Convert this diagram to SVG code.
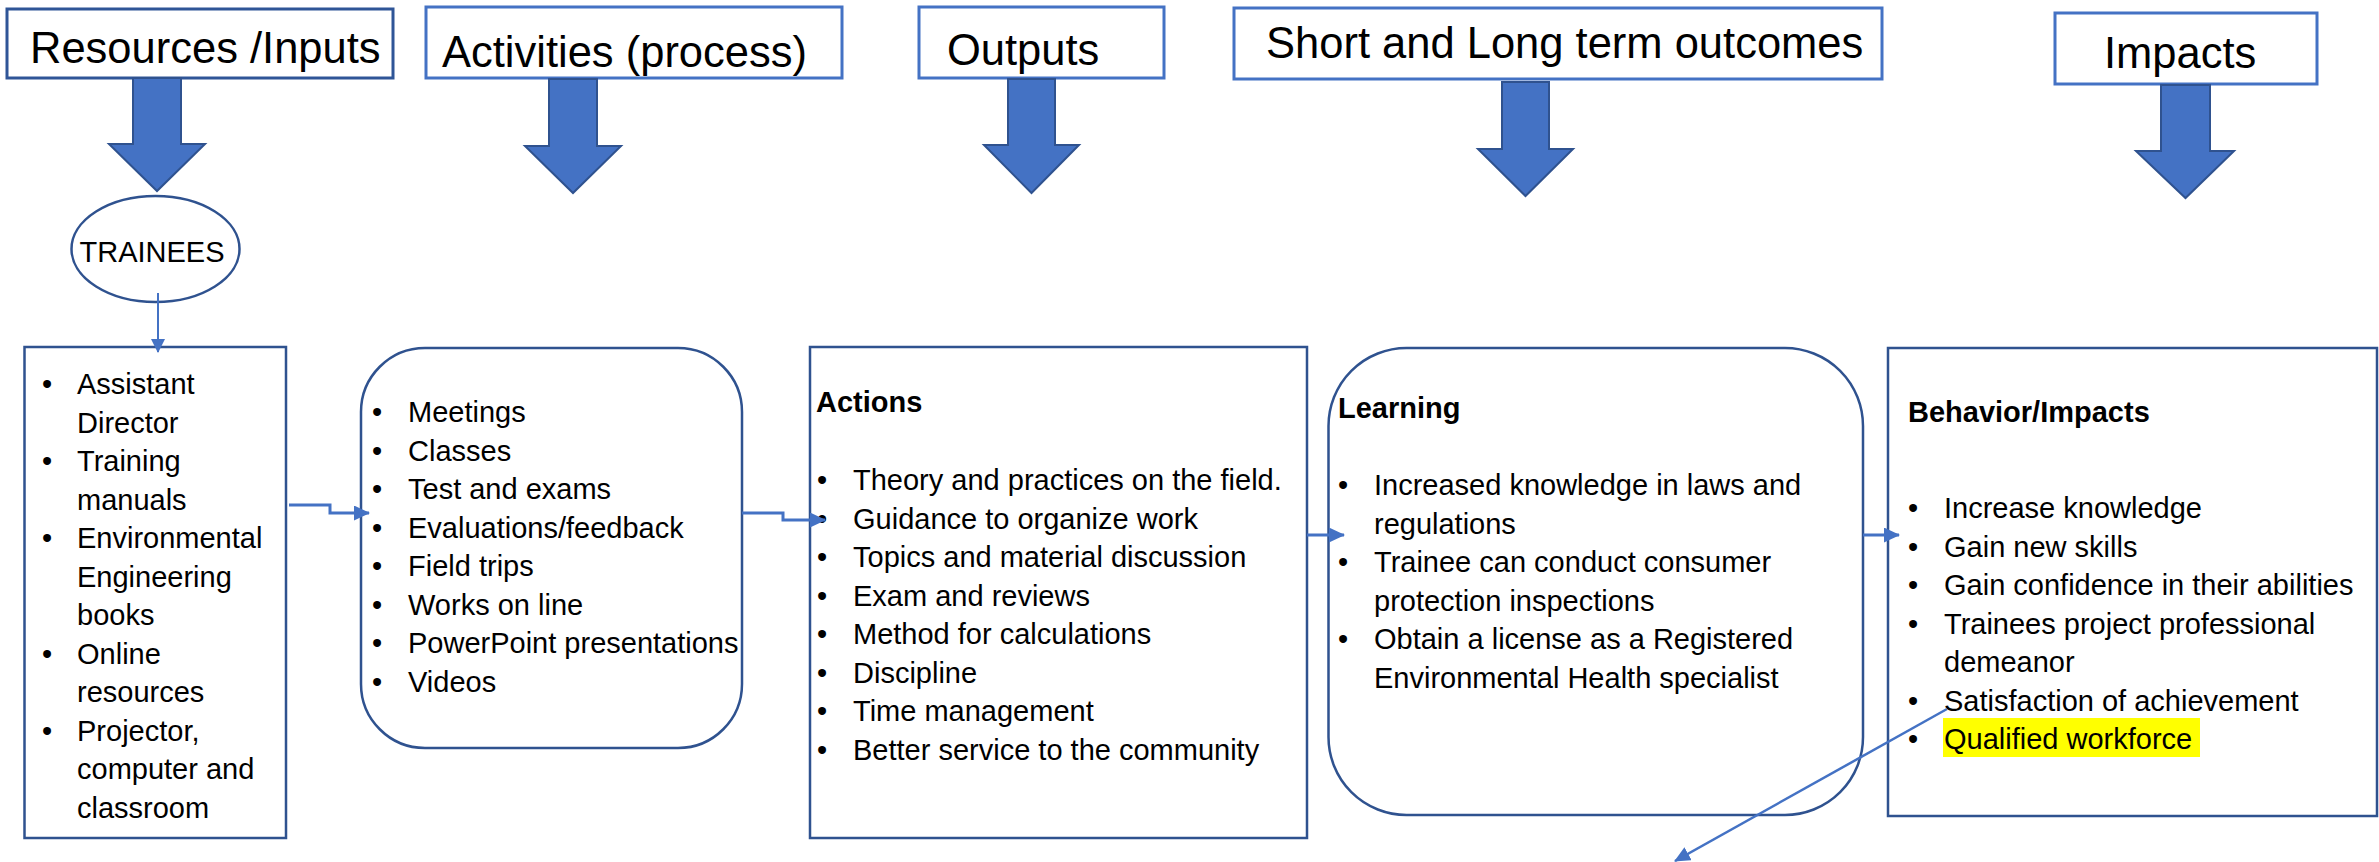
<svg xmlns="http://www.w3.org/2000/svg" width="2379" height="862" viewBox="0 0 2379 862">
<style>
text{font-family:"Liberation Sans",Arial,sans-serif;fill:#000}
.hd{font-size:43.5px}
.bd{font-size:29px}
.b{font-weight:bold}
.hbox{fill:#fff;stroke:#4472C4;stroke-width:3}
.box{fill:#fff;stroke:#2F528F;stroke-width:2.5}
.barrow{fill:#4472C4;stroke:#2F528F;stroke-width:2}
.conn{fill:none;stroke:#4472C4;stroke-width:3}
</style>
<defs>
<marker id="ah" viewBox="0 0 16 15" refX="15" refY="7.5" markerWidth="16" markerHeight="15" orient="auto" markerUnits="userSpaceOnUse">
<path d="M0,0 L16,7.5 L0,15 z" fill="#4472C4"/>
</marker>
<marker id="ahs" viewBox="0 0 14 14" refX="13" refY="7" markerWidth="14" markerHeight="14" orient="auto" markerUnits="userSpaceOnUse">
<path d="M0,0 L14,7 L0,14 z" fill="#4472C4"/>
</marker>
</defs>

<g id="header-resources">
<rect class="hbox" x="7" y="9" width="386" height="69" style="stroke:#2F5597"/>
<text class="hd" x="30" y="63">Resources /Inputs</text>
<polygon class="barrow" points="133,78 181,78 181,144 205,144 157,191 109,144 133,144"/>
</g>
<g id="header-activities">
<rect class="hbox" x="426" y="7" width="416" height="71"/>
<text class="hd" x="442" y="67">Activities (process)</text>
<polygon class="barrow" points="549,79 597,79 597,146 621,146 573,193 525,146 549,146"/>
</g>
<g id="header-outputs">
<rect class="hbox" x="919" y="7" width="245" height="71"/>
<text class="hd" x="947" y="65">Outputs</text>
<polygon class="barrow" points="1008,79 1055,79 1055,145 1079,145 1031.5,193 984,145 1008,145"/>
</g>
<g id="header-outcomes">
<rect class="hbox" x="1234" y="8" width="648" height="71"/>
<text class="hd" x="1266" y="58">Short and Long term outcomes</text>
<polygon class="barrow" points="1502,82 1549,82 1549,149 1573,149 1525.5,196 1478,149 1502,149"/>
</g>
<g id="header-impacts">
<rect class="hbox" x="2055" y="13" width="262" height="71"/>
<text class="hd" x="2104" y="68">Impacts</text>
<polygon class="barrow" points="2161,85 2210,85 2210,151 2234,151 2185.5,198 2136,151 2161,151"/>
</g>

<g id="trainees">
<ellipse class="box" cx="155.5" cy="249" rx="84" ry="53"/>
<text class="bd" x="152" y="262" text-anchor="middle">TRAINEES</text>
</g>

<g id="inputs">
<rect class="box" x="24.5" y="347" width="261.5" height="491"/>
<g class="bd">
<text class="bd" x="42" y="394">•</text>
<text class="bd" x="77" y="394">Assistant</text>
<text class="bd" x="77" y="432.5">Director</text>
<text class="bd" x="42" y="471">•</text>
<text class="bd" x="77" y="471">Training</text>
<text class="bd" x="77" y="509.5">manuals</text>
<text class="bd" x="42" y="548">•</text>
<text class="bd" x="77" y="548">Environmental</text>
<text class="bd" x="77" y="586.5">Engineering</text>
<text class="bd" x="77" y="625">books</text>
<text class="bd" x="42" y="663.5">•</text>
<text class="bd" x="77" y="663.5">Online</text>
<text class="bd" x="77" y="702">resources</text>
<text class="bd" x="42" y="740.5">•</text>
<text class="bd" x="77" y="740.5">Projector,</text>
<text class="bd" x="77" y="779">computer and</text>
<text class="bd" x="77" y="817.5">classroom</text>
</g>
</g>

<g id="activities">
<rect class="box" x="361" y="348" width="381" height="400" rx="64" ry="64"/>
<text class="bd" x="372" y="422">•</text><text class="bd" x="408" y="422">Meetings</text>
<text class="bd" x="372" y="460.5">•</text><text class="bd" x="408" y="460.5">Classes</text>
<text class="bd" x="372" y="499">•</text><text class="bd" x="408" y="499">Test and exams</text>
<text class="bd" x="372" y="537.5">•</text><text class="bd" x="408" y="537.5">Evaluations/feedback</text>
<text class="bd" x="372" y="576">•</text><text class="bd" x="408" y="576">Field trips</text>
<text class="bd" x="372" y="614.5">•</text><text class="bd" x="408" y="614.5">Works on line</text>
<text class="bd" x="372" y="653">•</text><text class="bd" x="408" y="653">PowerPoint presentations</text>
<text class="bd" x="372" y="691.5">•</text><text class="bd" x="408" y="691.5">Videos</text>
</g>

<g id="actions">
<rect class="box" x="810" y="347" width="497" height="491"/>
<text class="bd b" x="816" y="412">Actions</text>
<text class="bd" x="817" y="490">•</text><text class="bd" x="853" y="490">Theory and practices on the field.</text>
<text class="bd" x="817" y="528.5">•</text><text class="bd" x="853" y="528.5">Guidance to organize work</text>
<text class="bd" x="817" y="567">•</text><text class="bd" x="853" y="567">Topics and material discussion</text>
<text class="bd" x="817" y="605.5">•</text><text class="bd" x="853" y="605.5">Exam and reviews</text>
<text class="bd" x="817" y="644">•</text><text class="bd" x="853" y="644">Method for calculations</text>
<text class="bd" x="817" y="682.5">•</text><text class="bd" x="853" y="682.5">Discipline</text>
<text class="bd" x="817" y="721">•</text><text class="bd" x="853" y="721">Time management</text>
<text class="bd" x="817" y="759.5">•</text><text class="bd" x="853" y="759.5">Better service to the community</text>
</g>

<g id="learning">
<rect class="box" x="1328.5" y="348" width="534.5" height="467" rx="78" ry="78"/>
<text class="bd b" x="1338" y="418">Learning</text>
<text class="bd" x="1338" y="495">•</text><text class="bd" x="1374" y="495">Increased knowledge in laws and</text>
<text class="bd" x="1374" y="533.5">regulations</text>
<text class="bd" x="1338" y="572">•</text><text class="bd" x="1374" y="572">Trainee can conduct consumer</text>
<text class="bd" x="1374" y="610.5">protection inspections</text>
<text class="bd" x="1338" y="649">•</text><text class="bd" x="1374" y="649">Obtain a license as a Registered</text>
<text class="bd" x="1374" y="687.5">Environmental Health specialist</text>
</g>

<g id="impacts">
<rect class="box" x="1888" y="348" width="489" height="468"/>
<text class="bd b" x="1908" y="422">Behavior/Impacts</text>
<rect x="1943" y="718" width="257" height="39" fill="#FFFF00"/>
<text class="bd" x="1908" y="518">•</text><text class="bd" x="1944" y="518">Increase knowledge</text>
<text class="bd" x="1908" y="556.5">•</text><text class="bd" x="1944" y="556.5">Gain new skills</text>
<text class="bd" x="1908" y="595">•</text><text class="bd" x="1944" y="595">Gain confidence in their abilities</text>
<text class="bd" x="1908" y="633.5">•</text><text class="bd" x="1944" y="633.5">Trainees project professional</text>
<text class="bd" x="1944" y="672">demeanor</text>
<text class="bd" x="1908" y="710.5">•</text><text class="bd" x="1944" y="710.5">Satisfaction of achievement</text>
<text class="bd" x="1908" y="749">•</text><text class="bd" x="1944" y="749">Qualified workforce</text>
</g>

<g id="connectors">
<path class="conn" style="stroke-width:2" d="M158,293 V352" marker-end="url(#ahs)"/>
<path class="conn" d="M289,505 H330 V513 H369" marker-end="url(#ah)"/>
<path class="conn" d="M742,513 H783 V520 H825" marker-end="url(#ah)"/>
<path class="conn" d="M1307,535 H1344" marker-end="url(#ah)"/>
<path class="conn" d="M1863,535 H1899" marker-end="url(#ah)"/>
<path class="conn" style="stroke-width:2.5" d="M1947,709 L1675,861" marker-end="url(#ah)"/>
</g>
</svg>
